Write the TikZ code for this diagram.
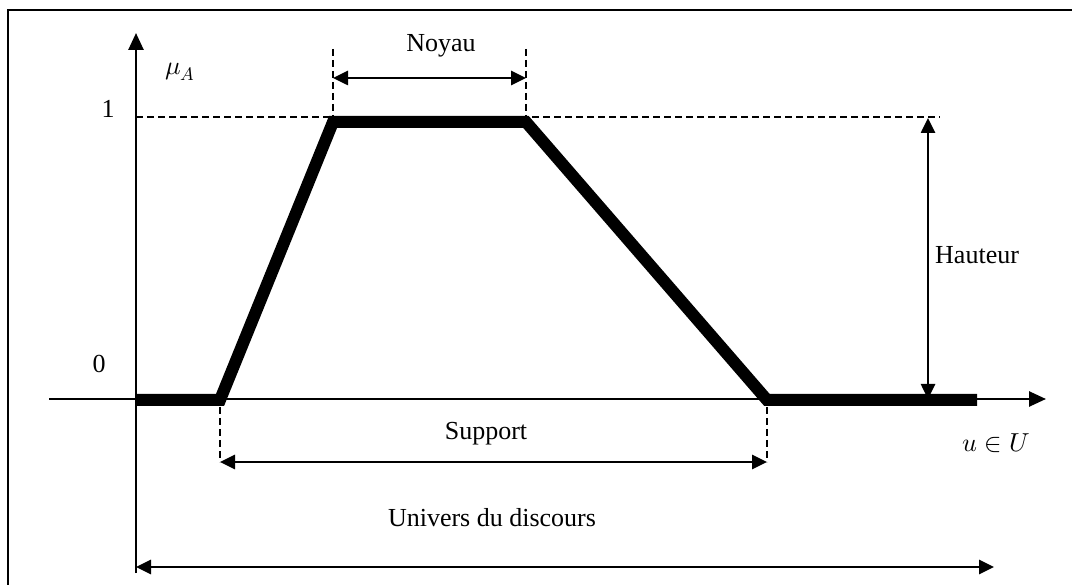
\documentclass[tikz,border=0pt]{standalone}
\usepackage{unicode-math}
\setmainfont{Liberation Serif}
\setmathfont{Latin Modern Math}
\usetikzlibrary{arrows.meta}
\begin{document}
\begin{tikzpicture}[x=1pt,y=-1pt,
  font=\fontsize{26}{31}\selectfont,
  axis/.style={line width=2.6pt,-{Triangle[length=17pt,width=15pt]}},
  dim/.style={line width=2.6pt,{Triangle[length=15pt,width=14pt]}-{Triangle[length=15pt,width=14pt]}},
  guide/.style={line width=2.4pt,dash pattern=on 7pt off 4pt},
  mf/.style={line width=12pt,line join=miter,line cap=butt},
  lbl/.style={inner sep=0pt}]
\useasboundingbox (0,0) rectangle (1072,585);
% frame
\draw[line width=2.8pt] (1072,10) -- (8,10) -- (8,585);
% key points of the trapezoid
\coordinate (o)  at (136,400);
\coordinate (a)  at (220,400);
\coordinate (b)  at (333,122);
\coordinate (c)  at (526,122);
\coordinate (d)  at (767,400);
\coordinate (e)  at (977,400);
% axes
\coordinate (xs) at (49,399);
\coordinate (xe) at (1046,399);
\coordinate (ys) at (136,573);
\coordinate (ye) at (136,33);
\draw[axis] (xs) -- (xe);
\draw[axis] (ys) -- (ye);
% level 1
\coordinate (h1) at (136,117);
\coordinate (h2) at (940,117);
\draw[guide] (h1) -- (h2);
% membership function
\draw[mf] (o) -- (a) -- (b) -- (c) -- (d) -- (e);
% labels on the axes
\node[lbl] (mu)  at (180,72)  {$\mu_A$};
\node[lbl] (one) at (108,109) {1};
\node[lbl] (zero) at (99,364) {0};
\node[lbl] (u)   at (996,443) {$u\in U$};
% kernel
\coordinate (n1t) at (333,49);
\coordinate (n2t) at (526,49);
\coordinate (n1b) at (333,117);
\coordinate (n2b) at (526,117);
\draw[guide] (n1t) -- (n1b);
\draw[guide] (n2t) -- (n2b);
\coordinate (n1) at (333,78);
\coordinate (n2) at (526,78);
\draw[dim] (n1) -- (n2);
\node[lbl] (noyau) at (441,46) {Noyau};
% height
\coordinate (ht) at (928,118);
\coordinate (hb) at (928,399);
\draw[dim] (ht) -- (hb);
\node[lbl,anchor=west] (hauteur) at (935,255) {Hauteur};
% support
\coordinate (s1t) at (220,407);
\coordinate (s2t) at (767,407);
\coordinate (s1) at (220,462);
\coordinate (s2) at (767,462);
\draw[guide] (s1t) -- (s1);
\draw[guide] (s2t) -- (s2);
\draw[dim] (s1) -- (s2);
\node[lbl] (support) at (486,434) {Support};
% universe of discourse
\coordinate (w1) at (136,567);
\coordinate (w2) at (994,567);
\draw[dim] (w1) -- (w2);
\node[lbl] (univers) at (492,518) {Univers du discours};
\end{tikzpicture}
\end{document}
